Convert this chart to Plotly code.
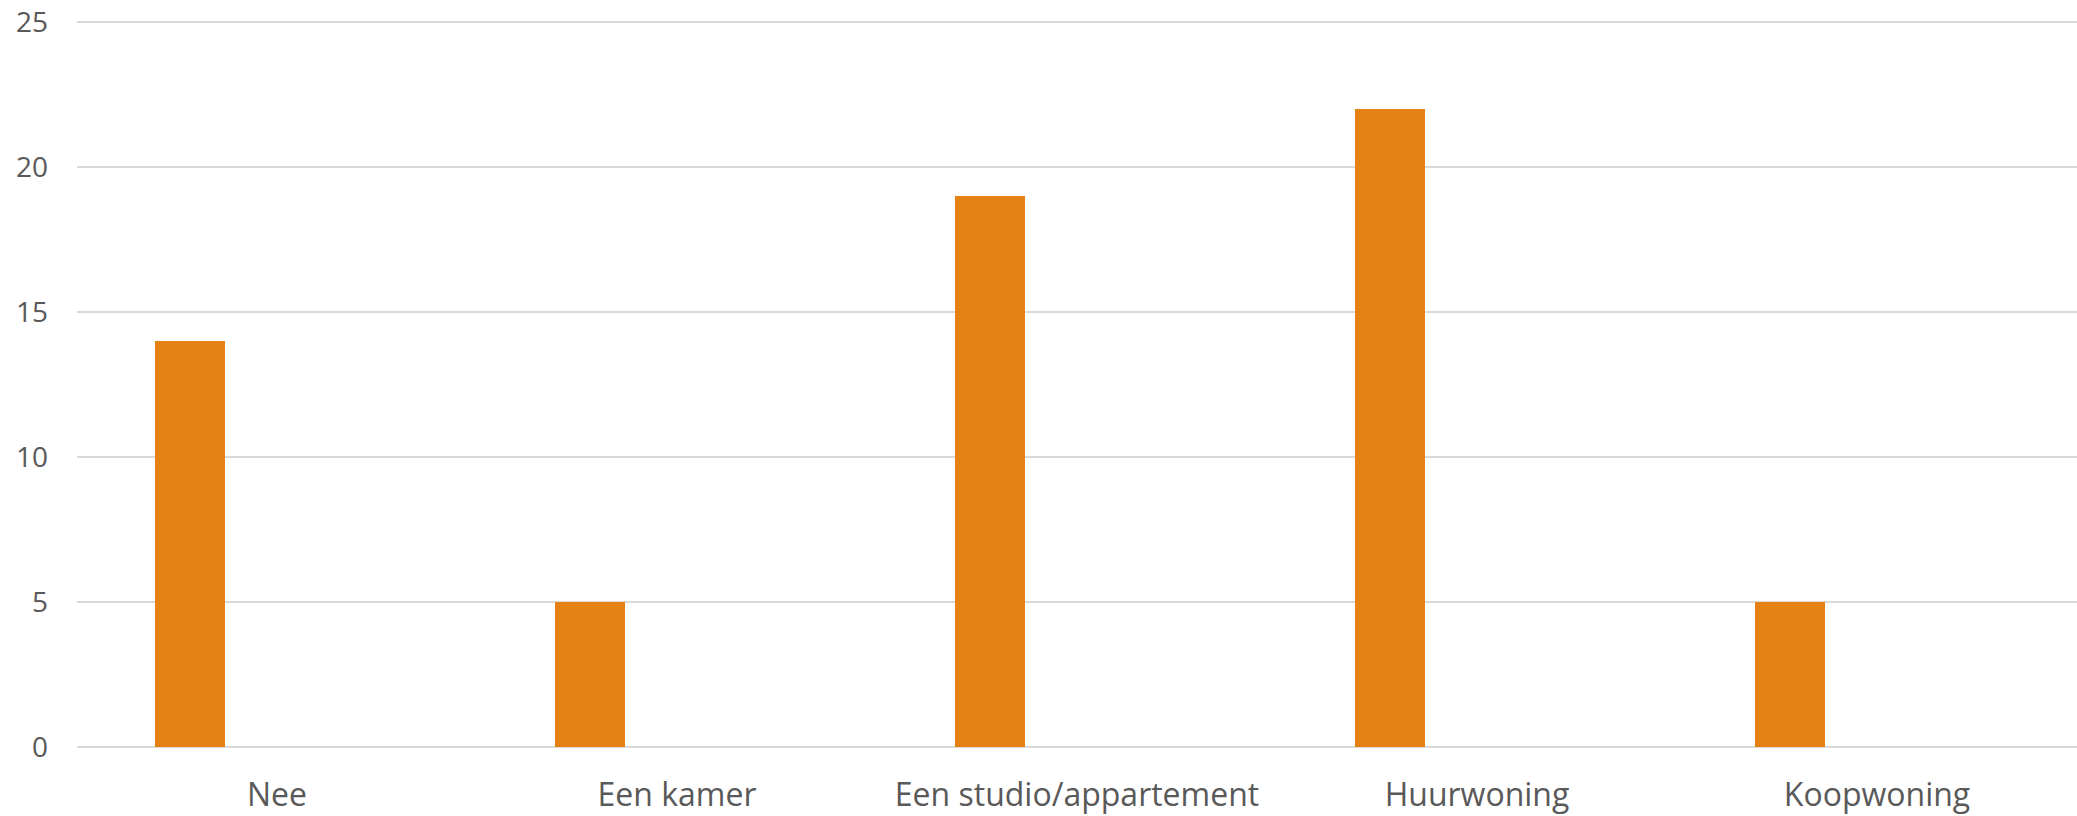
import plotly.graph_objects as go

categories = ["Nee", "Een kamer", "Een studio/appartement", "Huurwoning", "Koopwoning"]
values = [14, 5, 19, 22, 5]
y_ticks = [0, 5, 10, 15, 20, 25]

fig = go.Figure()
fig.add_trace(go.Bar(
    x=categories, y=values,
    marker=dict(color="rgb(229,130,19)", line=dict(width=0)),
    width=0.175, offset=-0.305,
    showlegend=False, hoverinfo="x+y",
))

fig.update_layout(
    width=2077, height=816,
    margin=dict(l=77, r=0, t=21, b=69, autoexpand=False),
    paper_bgcolor="white", plot_bgcolor="white",
    font=dict(family="Open Sans", color="#595959"),
    xaxis=dict(
        type="category", range=[-0.5, 4.5], automargin=False,
        showgrid=False, zeroline=False, showline=False,
        ticks="", tickfont=dict(size=32, color="#595959"),
        ticklabelstandoff=26,
    ),
    yaxis=dict(
        range=[0, 25.05], tickvals=y_ticks, automargin=False,
        showgrid=True, gridcolor="#d9d9d9", gridwidth=1.5,
        zeroline=True, zerolinecolor="#d9d9d9", zerolinewidth=1.5,
        showline=False, ticks="",
        tickfont=dict(size=28, color="#595959"),
        ticklabelstandoff=28,
        ticklabeloverflow="allow",
    ),
    bargap=0,
)

fig.write_html(
    "out.html",
    config={"displayModeBar": False},
    post_script="document.body.style.margin='0';document.body.style.overflow='hidden';",
)
